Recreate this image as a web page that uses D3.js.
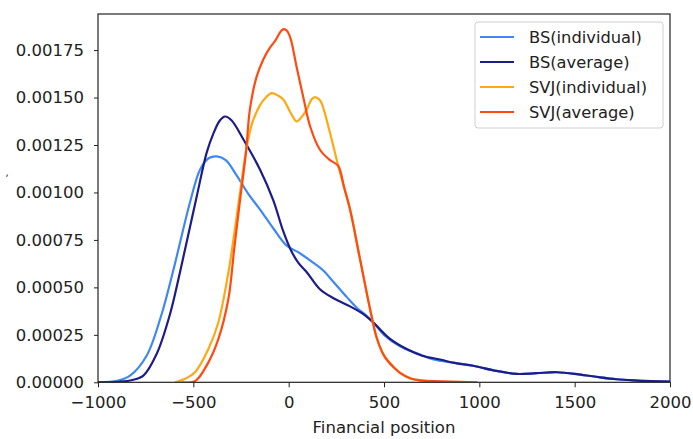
<!DOCTYPE html>
<html>
<head>
<meta charset="utf-8">
<script src="https://cdn.jsdelivr.net/npm/d3@7"></script>
<style>
  html, body { margin: 0; padding: 0; background: #fff; }
  svg text { font-family: "DejaVu Sans", sans-serif; fill: #222; }
</style>
</head>
<body>
<svg id="chart" width="693" height="439"></svg>
<script>
// ---- Data ----
const xTicks = [-1000, -500, 0, 500, 1000, 1500, 2000];
const yTicks = [0, 0.00025, 0.0005, 0.00075, 0.001, 0.00125, 0.0015, 0.00175];
const seriesNames = ["BS(individual)", "BS(average)", "SVJ(individual)", "SVJ(average)"];
const seriesColors = ["#3f88f2", "#1c1c8a", "#ffa812", "#ff4a12"];

const bsIndividual = [
  [-1000, 0.0], [-900, 0.000008], [-832, 0.000035], [-745, 0.00014],
  [-666, 0.00036], [-605, 0.00059], [-517, 0.00095],
  [-465, 0.00112], [-420, 0.00118], [-377, 0.00119], [-330, 0.00117], [-273, 0.00109],
  [-210, 0.00099], [-150, 0.00091], [-80, 0.00081], [-10, 0.00072], [59, 0.00068],
  [129, 0.00063], [180, 0.00059], [234, 0.00053], [304, 0.00045], [360, 0.00039],
  [409, 0.00035], [444, 0.000315], [500, 0.00025], [584, 0.00019], [680, 0.00015],
  [759, 0.00012], [870, 0.000102], [968, 0.000087], [1090, 0.00006], [1196, 0.000044],
  [1300, 0.000048], [1406, 0.000053], [1520, 0.000042], [1633, 0.000026], [1720, 0.000016],
  [1808, 0.00001], [1900, 0.000006], [2000, 0.000004]
];
const bsAverage = [
  [-1000, 0.0], [-885, 0.000003], [-820, 0.000012], [-762, 0.000035], [-692, 0.00015],
  [-622, 0.00036], [-570, 0.00058], [-482, 0.00098],
  [-430, 0.00121], [-395, 0.00131], [-360, 0.00138], [-334, 0.0014], [-300, 0.00138],
  [-238, 0.00128], [-150, 0.00112], [-81, 0.00096], [-30, 0.0008], [10, 0.0007],
  [50, 0.00063], [95, 0.00058], [164, 0.00049], [240, 0.00044], [322, 0.0004], [390, 0.00036],
  [444, 0.000315], [530, 0.00023], [619, 0.000175], [700, 0.00014], [794, 0.00012],
  [870, 0.000102], [968, 0.000087], [1090, 0.00006], [1196, 0.000044], [1300, 0.000048],
  [1406, 0.000053], [1520, 0.000042], [1633, 0.000026], [1720, 0.000016], [1808, 0.00001],
  [1900, 0.000006], [2000, 0.000004]
];
const svjIndividual = [
  [-596, 0.0], [-540, 0.00002], [-491, 0.000053], [-421, 0.000175], [-369, 0.000315],
  [-316, 0.00058], [-290, 0.00075], [-255, 0.001], [-220, 0.00124], [-190, 0.00137],
  [-150, 0.00146], [-120, 0.00150], [-89, 0.001523], [-55, 0.00151], [-28, 0.00149],
  [10, 0.00142], [42, 0.001374], [70, 0.0014], [94, 0.001435], [120, 0.00149],
  [138, 0.001502], [160, 0.00149], [173, 0.00147], [217, 0.001313], [260, 0.00114],
  [290, 0.00103], [322, 0.00091], [374, 0.00065], [427, 0.000385], [460, 0.00024],
  [490, 0.00016], [514, 0.00012], [550, 0.00008], [584, 0.00005], [640, 0.00002],
  [689, 0.00001], [750, 0.000004]
];
const svjAverage = [
  [-560, 0.0], [-491, 0.000006], [-421, 0.000105], [-369, 0.000227], [-316, 0.00044],
  [-286, 0.0007], [-255, 0.00096], [-225, 0.0012], [-203, 0.00144], [-168, 0.00161],
  [-133, 0.0017], [-100, 0.00176], [-70, 0.00180], [-40, 0.00185], [-25, 0.00186],
  [-8, 0.00185], [10, 0.00181], [42, 0.00166], [77, 0.0015], [112, 0.00135],
  [164, 0.001225], [217, 0.00117], [260, 0.00114], [290, 0.00103], [322, 0.00091],
  [374, 0.00065], [427, 0.000385], [460, 0.00024], [490, 0.00016], [514, 0.00012],
  [550, 0.00008], [584, 0.00005], [640, 0.00002], [689, 0.00001], [800, 0.000005],
  [900, 0.000002], [990, 0.0]
];
const allSeries = [bsIndividual, bsAverage, svjIndividual, svjAverage];

// ---- Layout ----
const margin = { left: 98, right: 23, top: 14, bottom: 56 };
const W = 693, H = 439;
const svg = d3.select("#chart");

const x = d3.scaleLinear().domain([-1000, 2000]).range([margin.left, W - margin.right]);
const y = d3.scaleLinear().domain([0, 0.00194]).range([H - margin.bottom - 0.7, margin.top]);

// clip
svg.append("clipPath").attr("id", "clip").append("rect")
  .attr("x", margin.left).attr("y", margin.top)
  .attr("width", W - margin.right - margin.left)
  .attr("height", y(0) - margin.top);

const line = d3.line()
  .x(d => x(d[0])).y(d => y(Math.max(0, d[1])))
  .curve(d3.curveCatmullRom.alpha(0.5));

const g = svg.append("g").attr("clip-path", "url(#clip)");
allSeries.forEach((s, i) => {
  g.append("path").datum(s)
    .attr("d", line)
    .attr("fill", "none")
    .attr("stroke", seriesColors[i])
    .attr("stroke-width", 2.2)
    .attr("stroke-linejoin", "round");
});

// frame
svg.append("rect")
  .attr("x", margin.left).attr("y", margin.top)
  .attr("width", W - margin.right - margin.left)
  .attr("height", y(0) - margin.top)
  .attr("fill", "none").attr("stroke", "#222").attr("stroke-width", 1.2);

// axes
const xAxis = d3.axisBottom(x).tickValues(xTicks).tickSize(5).tickPadding(9)
  .tickFormat(d => d < 0 ? "\u2212" + Math.abs(d) : String(d));
const gx = svg.append("g").attr("transform", `translate(0,${y(0)})`).call(xAxis);
gx.select(".domain").remove();
gx.selectAll("line").attr("stroke", "#222");
gx.selectAll("text").style("font-size", "16.5px").attr("fill", "#222");

const yAxis = d3.axisLeft(y).tickValues(yTicks).tickSize(4).tickPadding(10)
  .tickFormat(d3.format(".5f"));
const gy = svg.append("g").attr("transform", `translate(${margin.left},0)`).call(yAxis);
gy.select(".domain").remove();
gy.selectAll("line").attr("stroke", "#222");
gy.selectAll("text").style("font-size", "16.5px").attr("fill", "#222");

// axis labels
svg.append("text")
  .attr("x", (margin.left + W - margin.right) / 2).attr("y", 433)
  .attr("text-anchor", "middle").style("font-size", "16.5px")
  .text("Financial position");
svg.append("text")
  .attr("x", 7).attr("y", 176)
  .attr("text-anchor", "middle").style("font-size", "10px")
  .text(",");

// legend
const lg = svg.append("g");
lg.append("rect")
  .attr("x", 475).attr("y", 22).attr("width", 188).attr("height", 106)
  .attr("rx", 3).attr("fill", "#fff").attr("fill-opacity", 0.8)
  .attr("stroke", "#d0d0d0").attr("stroke-width", 1);
seriesNames.forEach((name, i) => {
  const cy = 37 + i * 25;
  lg.append("line").attr("x1", 480).attr("x2", 514).attr("y1", cy).attr("y2", cy)
    .attr("stroke", seriesColors[i]).attr("stroke-width", 2.2);
  lg.append("text").attr("x", 529).attr("y", cy).attr("dy", "0.35em")
    .style("font-size", "16.3px").text(name);
});
</script>
</body>
</html>
